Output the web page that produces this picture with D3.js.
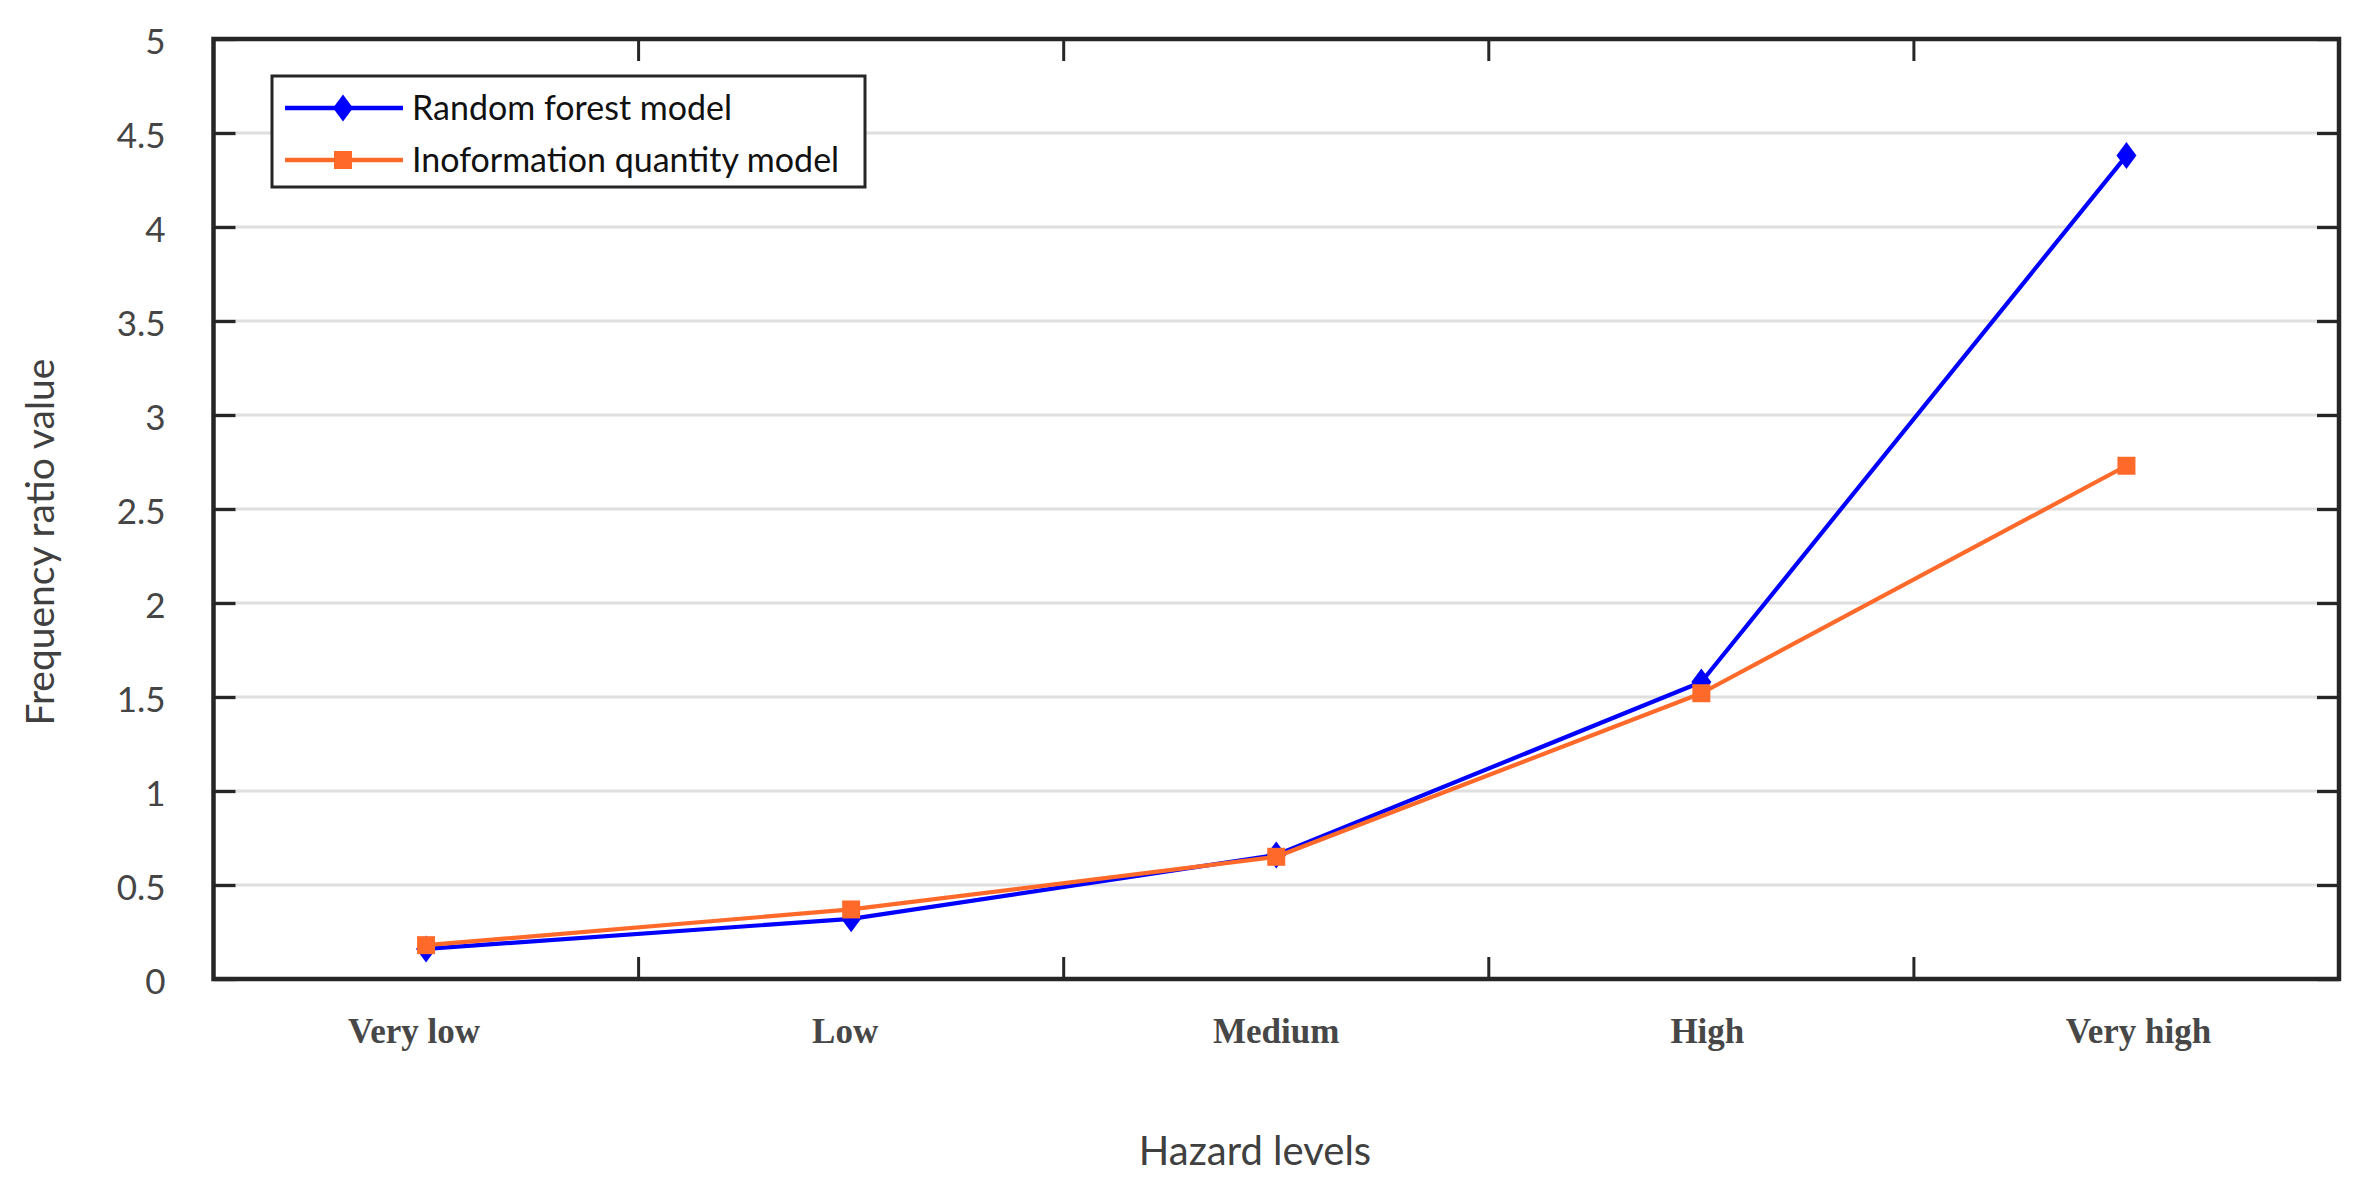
<!DOCTYPE html>
<html>
<head>
<meta charset="utf-8">
<script src="https://d3js.org/d3.v7.min.js"></script>
<style>
  body { margin: 0; background: #fff; }
  .tick text { font-family: Lato, "Open Sans", sans-serif; }
</style>
</head>
<body>
<svg id="chart" width="2370" height="1196"></svg>
<script>
// data
const levels = ["Very low", "Low", "Medium", "High", "Very high"];
const randomForest = [0.16, 0.32, 0.66, 1.58, 4.38];
const infoQuantity = [0.18, 0.37, 0.65, 1.52, 2.73];
const yTicks = [0, 0.5, 1, 1.5, 2, 2.5, 3, 3.5, 4, 4.5, 5];
const seriesNames = ["Random forest model", "Inoformation quantity model"];

const plotL = 213.5, plotR = 2339, plotT = 39, plotB = 979;
const axisCol = "#262626", textCol = "#404040";
const blue = "#0000ff", orange = "#ff6a2b";

const svg = d3.select("#chart");

const x = d3.scaleBand().domain(levels).range([plotL, plotR]).padding(0);
const y = d3.scaleLinear().domain([0, 5]).range([plotB, plotT]);
const cx = d => x(d) + x.bandwidth() / 2;
// the text labels under the axis sit on their own, slightly wider spacing
const xLab = d3.scalePoint().domain(levels)
  .range([cx(levels[0]) - 12, cx(levels[levels.length - 1]) + 12]);

// grid
svg.append("g")
  .selectAll("line")
  .data(yTicks.filter(v => v > 0 && v < 5))
  .enter().append("line")
  .attr("x1", plotL).attr("x2", plotR)
  .attr("y1", d => y(d)).attr("y2", d => y(d))
  .attr("stroke", "#dfdfdf").attr("stroke-width", 3);

// band boundaries used as x ticks (no labels)
const bounds = levels.slice(1);
function xTickLines(yPos, dir) {
  svg.append("g").selectAll("line")
    .data(bounds).enter().append("line")
    .attr("x1", d => x(d)).attr("x2", d => x(d))
    .attr("y1", yPos).attr("y2", yPos + dir * 22)
    .attr("stroke", axisCol).attr("stroke-width", 3);
}
xTickLines(plotB, -1);
xTickLines(plotT, 1);

// y axes with inward ticks
const yAxisL = svg.append("g")
  .attr("transform", `translate(${plotL},0)`)
  .call(d3.axisLeft(y).tickValues(yTicks).tickSize(-22).tickPadding(48).tickFormat(d3.format("")));
yAxisL.select(".domain").remove();
yAxisL.selectAll(".tick line").attr("stroke", axisCol).attr("stroke-width", 3.3);
yAxisL.selectAll(".tick text")
  .attr("fill", "#454545").attr("font-size", 35).attr("dy", "0.42em");

const yAxisR = svg.append("g")
  .attr("transform", `translate(${plotR},0)`)
  .call(d3.axisRight(y).tickValues(yTicks).tickSize(-22).tickFormat(""));
yAxisR.select(".domain").remove();
yAxisR.selectAll(".tick line").attr("stroke", axisCol).attr("stroke-width", 3.3);

// frame
svg.append("rect")
  .attr("x", plotL).attr("y", plotT)
  .attr("width", plotR - plotL).attr("height", plotB - plotT)
  .attr("fill", "none").attr("stroke", axisCol).attr("stroke-width", 4.5);

// category labels
svg.append("g").selectAll("text")
  .data(levels).enter().append("text")
  .attr("x", d => xLab(d)).attr("y", 1043)
  .attr("text-anchor", "middle")
  .attr("font-family", "'Liberation Serif', 'Times New Roman', serif")
  .attr("font-weight", "bold").attr("font-size", 35)
  .attr("fill", "#474747")
  .text(d => d);

// axis titles
svg.append("text")
  .attr("x", 1255).attr("y", 1165)
  .attr("text-anchor", "middle")
  .attr("font-family", "Lato, 'Open Sans', sans-serif")
  .attr("font-size", 40).attr("fill", textCol)
  .text("Hazard levels");

svg.append("text")
  .attr("transform", "translate(54,542) rotate(-90)")
  .attr("text-anchor", "middle")
  .attr("font-family", "Lato, 'Open Sans', sans-serif")
  .attr("font-size", 39).attr("fill", textCol)
  .text("Frequency ratio value");

// lines
const line = d3.line().x((d, i) => cx(levels[i])).y(d => y(d));
const diamond = "M0,-13.5L10,0L0,13.5L-10,0Z";
const square = "M-9,-9H9V9H-9Z";

function drawSeries(vals, col, shape) {
  svg.append("path").datum(vals)
    .attr("d", line).attr("fill", "none")
    .attr("stroke", col).attr("stroke-width", 4.2)
    .attr("stroke-linejoin", "round");
  svg.append("g").selectAll("path")
    .data(vals).enter().append("path")
    .attr("d", shape)
    .attr("transform", (d, i) => `translate(${cx(levels[i])},${y(d)})`)
    .attr("fill", col);
}
drawSeries(randomForest, blue, diamond);
drawSeries(infoQuantity, orange, square);

// legend
const lg = svg.append("g");
lg.append("rect")
  .attr("x", 272).attr("y", 76).attr("width", 593).attr("height", 111)
  .attr("fill", "#fff").attr("stroke", axisCol).attr("stroke-width", 3);
const legendItems = [
  { name: seriesNames[0], col: blue, shape: diamond, cy: 108 },
  { name: seriesNames[1], col: orange, shape: square, cy: 160 }
];
legendItems.forEach(it => {
  lg.append("line")
    .attr("x1", 285).attr("x2", 403).attr("y1", it.cy).attr("y2", it.cy)
    .attr("stroke", it.col).attr("stroke-width", 4.5);
  lg.append("path").attr("d", it.shape)
    .attr("transform", `translate(343,${it.cy})`).attr("fill", it.col);
  lg.append("text")
    .attr("x", 412).attr("y", it.cy).attr("dy", "0.36em")
    .attr("font-family", "Lato, 'Open Sans', sans-serif")
    .attr("font-size", 34).attr("fill", "#111")
    .text(it.name);
});
</script>
</body>
</html>
